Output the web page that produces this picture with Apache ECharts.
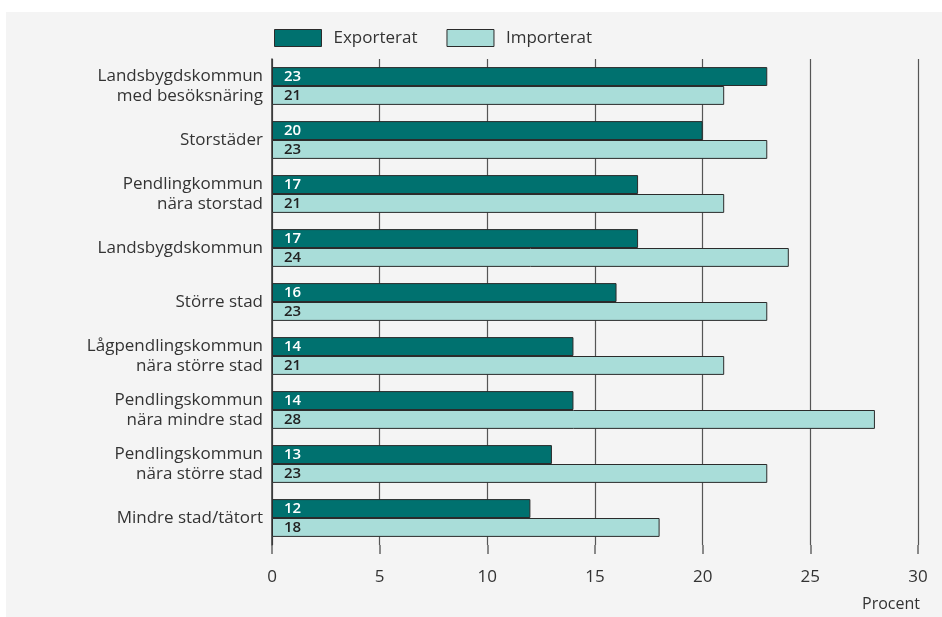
<!DOCTYPE html>
<html>
<head>
<meta charset="utf-8">
<script src="https://cdn.jsdelivr.net/npm/echarts@6/dist/echarts.min.js"></script>
<style>
  html, body { margin: 0; padding: 0; background: #ffffff; }
  #chart { width: 942px; height: 617px; }
</style>
</head>
<body>
<div id="chart"></div>
<script>
// Kommungrupper, uppifrån och ned
const categories = [
  'Landsbygdskommun\nmed besöksnäring',
  'Storstäder',
  'Pendlingkommun\nnära storstad',
  'Landsbygdskommun',
  'Större stad',
  'Lågpendlingskommun\nnära större stad',
  'Pendlingskommun\nnära mindre stad',
  'Pendlingskommun\nnära större stad',
  'Mindre stad/tätort'
];
const exporterat = [23, 20, 17, 17, 16, 14, 14, 13, 12];
const importerat = [21, 23, 21, 24, 23, 21, 28, 23, 18];
const xTicks = [0, 5, 10, 15, 20, 25, 30];
const axisTitle = 'Procent';

const FONT = '"Open Sans", sans-serif';
const DARK = '#00716f';
const LIGHT = '#a9ddd9';
const EDGE = '#2b2b2b';

const chart = echarts.init(document.getElementById('chart'));

chart.setOption({
  backgroundColor: '#ffffff',
  animation: false,
  graphic: [
    { type: 'rect', z: -10, left: 6, top: 12, shape: { width: 936, height: 605 }, style: { fill: '#f4f4f4' } },
    { type: 'text', right: 22, top: 596, style: { text: axisTitle, fill: '#333', font: '16px ' + FONT } }
  ],
  textStyle: { fontFamily: FONT },
  legend: {
    left: 274,
    top: 29,
    padding: 0,
    itemWidth: 47,
    itemHeight: 17,
    itemGap: 29,
    textStyle: { fontSize: 17, color: '#333', fontFamily: FONT, padding: [0, 0, 0, 7] },
    data: [
      { name: 'Exporterat', icon: 'rect', itemStyle: { color: DARK, borderColor: EDGE, borderWidth: 1 } },
      { name: 'Importerat', icon: 'rect', itemStyle: { color: LIGHT, borderColor: EDGE, borderWidth: 1 } }
    ]
  },
  grid: { left: 272, right: 24, top: 59, bottom: 72 },
  xAxis: {
    type: 'value',
    min: xTicks[0],
    max: xTicks[xTicks.length - 1],
    interval: 5,
    axisLine: { show: false },
    axisTick: { show: true, length: 9, lineStyle: { color: '#666', width: 1.5 } },
    axisLabel: { color: '#333', fontSize: 17, fontFamily: FONT, margin: 24 },
    splitLine: { show: true, lineStyle: { color: '#555', width: 1.2 } }
  },
  yAxis: {
    type: 'category',
    inverse: true,
    data: categories,
    axisLine: { show: true, lineStyle: { color: '#333', width: 1.5 } },
    axisTick: { show: false },
    axisLabel: { color: '#333', fontSize: 17, fontFamily: FONT, margin: 9, lineHeight: 20, align: 'right', padding: [3, 0, 0, 0] }
  },
  series: [
    {
      name: 'Exporterat',
      type: 'bar',
      data: exporterat,
      barGap: '0%',
      barCategoryGap: '30%',
      itemStyle: { color: DARK, borderColor: EDGE, borderWidth: 1 },
      label: { show: true, position: 'insideLeft', distance: 12, color: '#ffffff', fontSize: 15, fontWeight: 600, fontFamily: FONT }
    },
    {
      name: 'Importerat',
      type: 'bar',
      data: importerat,
      itemStyle: { color: LIGHT, borderColor: EDGE, borderWidth: 1 },
      label: { show: true, position: 'insideLeft', distance: 12, color: '#222', fontSize: 15, fontWeight: 600, fontFamily: FONT }
    }
  ]
});
</script>
</body>
</html>
